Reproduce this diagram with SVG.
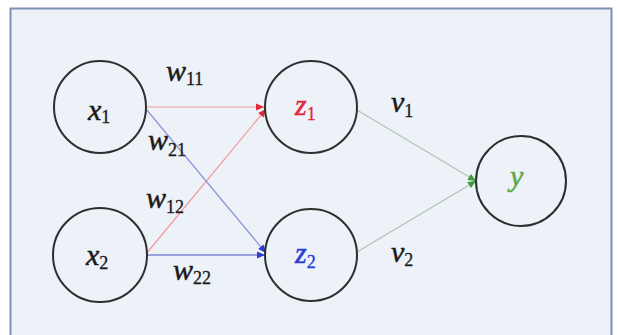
<svg xmlns="http://www.w3.org/2000/svg" width="618" height="335" viewBox="0 0 618 335">
<style>
.node{fill:none;stroke:#2e2e2e;stroke-width:2}
.lbl{font-family:"Liberation Serif","Times New Roman",serif;font-style:italic;font-size:30px;fill:#1a1a1a;stroke:#1a1a1a;stroke-width:0.5}
.sub{font-style:normal;font-size:18px;stroke-width:0.3}
.red{stroke:#f09a9a;stroke-width:1.2;fill:none}
.blue1{stroke:#8c90d8;stroke-width:1.2;fill:none}
.blue2{stroke:#4b56c4;stroke-width:1.2;fill:none}
.grn{stroke:#b3c2b3;stroke-width:1.2;fill:none}
</style>
<defs>
<marker id="ar" markerUnits="userSpaceOnUse" markerWidth="10" markerHeight="10" refX="9" refY="5" orient="auto"><path d="M1,1.5 L9,5 L1,8.5 Z" fill="#e0283a"/></marker>
<marker id="ab" markerUnits="userSpaceOnUse" markerWidth="10" markerHeight="10" refX="9" refY="5" orient="auto"><path d="M1,1.5 L9,5 L1,8.5 Z" fill="#2a3ad0"/></marker>
<marker id="ag" markerUnits="userSpaceOnUse" markerWidth="10" markerHeight="10" refX="9" refY="5" orient="auto"><path d="M1,1.5 L9,5 L1,8.5 Z" fill="#3c9a3c"/></marker>
</defs>
<rect x="10.5" y="8.5" width="601" height="340" fill="#edf1f8" stroke="#7f8fb5" stroke-width="2"/>
<g id="connectors">
<line class="red" x1="146" y1="107" x2="264" y2="107" marker-end="url(#ar)"/>
<line class="red" x1="146" y1="254" x2="266" y2="109" marker-end="url(#ar)"/>
<line class="blue1" x1="146" y1="109" x2="266" y2="253" marker-end="url(#ab)"/>
<line class="blue2" x1="146" y1="255" x2="265" y2="255" marker-end="url(#ab)"/>
<line class="grn" x1="357" y1="110" x2="476" y2="181" marker-end="url(#ag)"/>
<line class="grn" x1="357" y1="252" x2="476" y2="181" marker-end="url(#ag)"/>
</g>
<g id="edge-labels">
<text class="lbl" x="166" y="81">w<tspan class="sub" dy="4">11</tspan></text>
<text class="lbl" x="148" y="150">w<tspan class="sub" dy="6">21</tspan></text>
<text class="lbl" x="146" y="208">w<tspan class="sub" dy="5">12</tspan></text>
<text class="lbl" x="173" y="280">w<tspan class="sub" dy="4">22</tspan></text>
<text class="lbl" x="391" y="112">v<tspan class="sub" dy="5">1</tspan></text>
<text class="lbl" x="391" y="262">v<tspan class="sub" dy="4">2</tspan></text>
</g>
<g id="node-x1"><circle class="node" cx="100" cy="107" r="46"/><text class="lbl" x="88" y="120">x<tspan class="sub" dy="3">1</tspan></text></g>
<g id="node-x2"><circle class="node" cx="100" cy="255" r="47"/><text class="lbl" x="86" y="265">x<tspan class="sub" dy="4">2</tspan></text></g>
<g id="node-z1"><circle class="node" cx="311" cy="107" r="46"/><text class="lbl" x="295" y="115" style="fill:#e0283a;stroke:#e0283a">z<tspan class="sub" dy="5">1</tspan></text></g>
<g id="node-z2"><circle class="node" cx="311" cy="255" r="46"/><text class="lbl" x="295" y="263" style="fill:#2a3ad8;stroke:#2a3ad8">z<tspan class="sub" dy="5">2</tspan></text></g>
<g id="node-y"><circle class="node" cx="521" cy="181" r="45"/><text class="lbl" x="510" y="186" style="fill:#5ea844;stroke:#5ea844">y</text></g>
</svg>
